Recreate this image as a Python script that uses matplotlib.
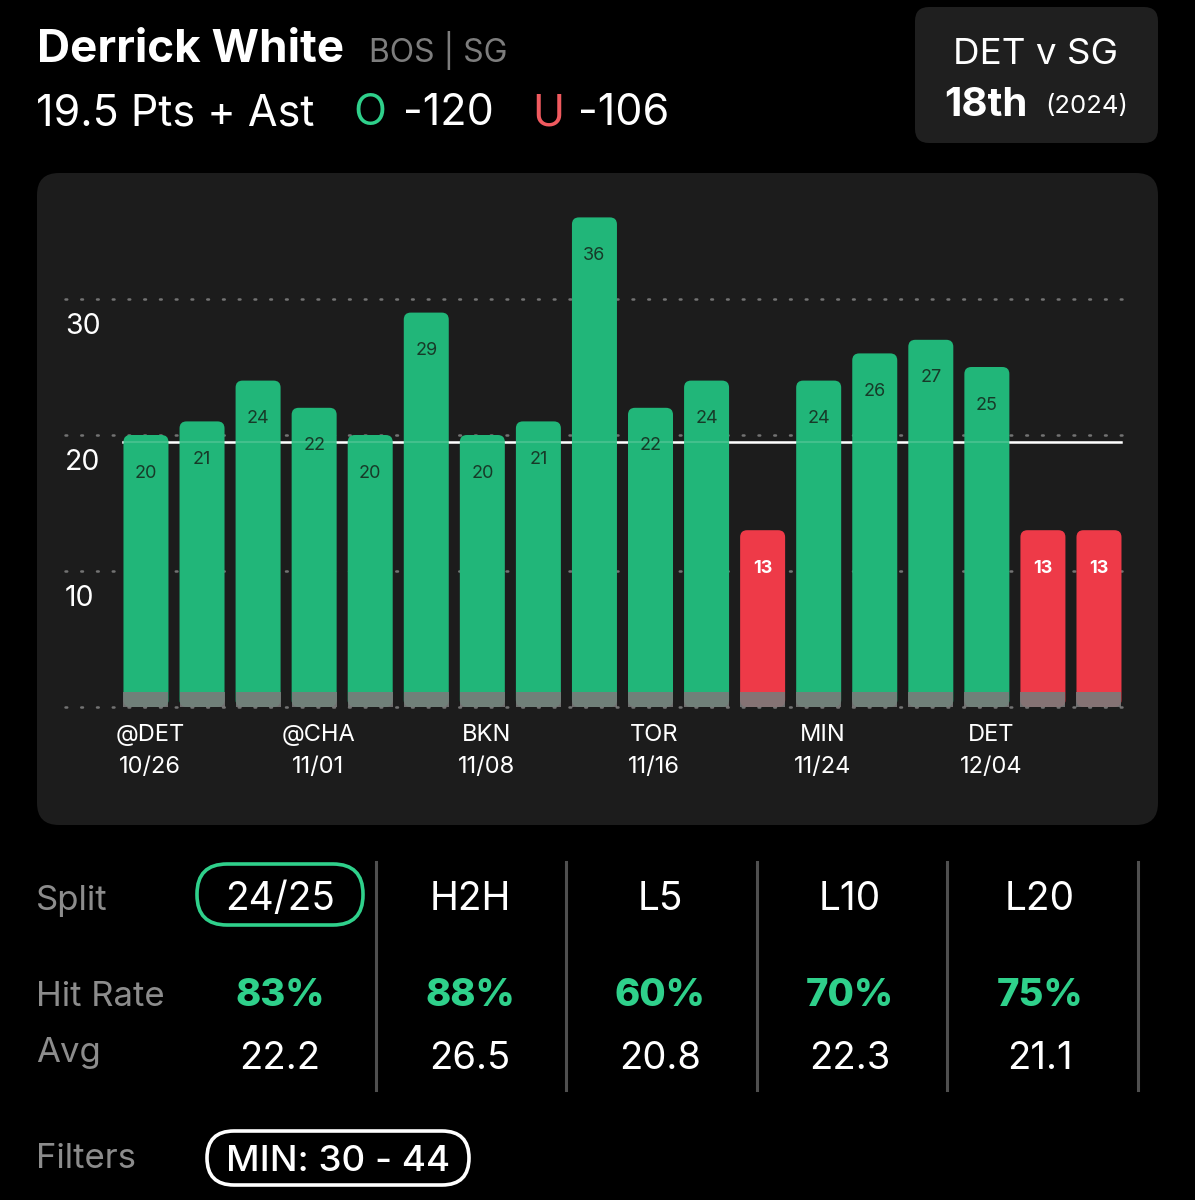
import matplotlib.pyplot as plt
import matplotlib.transforms as mtransforms
from matplotlib.patches import FancyBboxPatch, Rectangle

plt.rcParams["font.family"] = ["Inter", "DejaVu Sans"]

# header info
player = "Derrick White"
team_pos = "BOS | SG"
prop_line = 19.5
prop_label = "19.5 Pts + Ast"
over_odds = "-120"
under_odds = "-106"
matchup = "DET v SG"
rank = "18th"
rank_year = "(2024)"

# game log
values = [20, 21, 24, 22, 20, 29, 20, 21, 36, 22, 24, 13, 24, 26, 27, 25, 13, 13]
tick_idx = [0, 3, 6, 9, 12, 15]
opponents = ["@DET", "@CHA", "BKN", "TOR", "MIN", "DET"]
dates = ["10/26", "11/01", "11/08", "11/16", "11/24", "12/04"]
y_ticks = [10, 20, 30]
grid_vals = [0, 10, 20, 30]

# split table
splits = ["24/25", "H2H", "L5", "L10", "L20"]
hit_rates = ["83%", "88%", "60%", "70%", "75%"]
averages = ["22.2", "26.5", "20.8", "22.3", "21.1"]
filter_label = "MIN: 30 - 44"

GREEN = "#21b679"
RED = "#ee3a48"
BRIGHT_GREEN = "#2fd08b"
GREY_TXT = "#8c8c8c"
PANEL = "#1c1c1c"

fig = plt.figure(figsize=(11.95, 12), dpi=100, facecolor="black")

# pixel-space background axes
bg = fig.add_axes([0, 0, 1, 1])
bg.set_xlim(0, 1195)
bg.set_ylim(1200, 0)
bg.axis("off")
bg.set_facecolor("black")

# header
bg.text(37, 62, player, color="white", fontsize=33, fontweight="bold", va="baseline")
bg.text(369, 62, team_pos, color="#7d7d7d", fontsize=23, va="baseline")
bg.text(36, 125, prop_label, color="white", fontsize=31, va="baseline")
bg.text(353, 125, "O", color=BRIGHT_GREEN, fontsize=31, va="baseline")
bg.text(403, 125, over_odds, color="white", fontsize=31, va="baseline")
bg.text(532, 125, "U", color="#f05a5f", fontsize=31, va="baseline")
bg.text(578, 125, under_odds, color="white", fontsize=31, va="baseline")

# matchup box
bg.add_patch(FancyBboxPatch((915, 7), 243, 136, boxstyle="round,pad=0,rounding_size=14",
                            fc="#1f1f1f", ec="none"))
bg.text(1036, 64, matchup, color="white", fontsize=26.5, ha="center", va="baseline")
bg.text(944, 116, rank, color="white", fontsize=29, fontweight="bold", va="baseline")
bg.text(1045, 113, rank_year, color="white", fontsize=18.5, va="baseline")

# chart panel
bg.add_patch(FancyBboxPatch((37, 173), 1121, 652, boxstyle="round,pad=0,rounding_size=22",
                            fc=PANEL, ec="none"))

# chart axes: y=0 at pixel 707, 13.6 px per unit; bar spacing 56.06 px
px_unit = 13.6
ax = fig.add_axes([63 / 1195, (1200 - 720) / 1200, 1067 / 1195, 520 / 1200])
ax.set_xlim(-1.48, -1.48 + 1067 / 56.06)
ax.set_ylim(-13 / px_unit, 507 / px_unit)
ax.axis("off")
ax.patch.set_alpha(0)

x_lo, x_hi = ax.get_xlim()
gx0 = x_lo + 2 / 56.06
gx1 = x_lo + 1064 / 56.06
for g in grid_vals:
    ax.plot([gx0, gx1], [g, g], color="#737373", lw=1.8, linestyle=(0, (0.7, 5.6)),
            dash_capstyle="round", zorder=1)

bw = 45 / 56.06
n = len(values)
ax.plot([-bw / 2, n - 1 + bw / 2], [prop_line, prop_line], color="white", lw=1.8, zorder=1.5)

rs = 7 / 56.06
asp = 56.06 / px_unit
for i, v in enumerate(values):
    c = GREEN if v > prop_line else RED
    ax.add_patch(FancyBboxPatch((i - bw / 2, 0), bw, v,
                                boxstyle=f"round,pad=0,rounding_size={rs}",
                                mutation_aspect=asp, fc=c, ec="none", zorder=2))
    ax.add_patch(Rectangle((i - bw / 2, 0), bw, 1.1, fc="#7a7a7a", ec="none",
                           alpha=0.9, zorder=3))
    if v > prop_line:
        ax.text(i, v - 2.8, str(v), color="#173a28", fontsize=13, ha="center",
                va="center", zorder=4)
    else:
        ax.text(i, v - 2.8, str(v), color="white", fontsize=13, fontweight="bold",
                ha="center", va="center", zorder=4)

# faint threshold line across bars
ax.plot([-bw / 2, n - 1 + bw / 2], [prop_line, prop_line], color="white", lw=1.5,
        alpha=0.15, zorder=3.5)

# y labels sit below their gridlines
trans = mtransforms.blended_transform_factory(ax.transAxes, ax.transData)
for t in y_ticks:
    ax.text(2 / 1067, t - 2.0, str(t), transform=trans, color="white", fontsize=20.5,
            ha="left", va="center")

# x labels
for k, i in enumerate(tick_idx):
    ax.text(i + 0.07, -2.05, opponents[k], color="white", fontsize=17, ha="center", va="center")
    ax.text(i + 0.07, -4.4, dates[k], color="white", fontsize=17, ha="center", va="center")

# split table
col_x = [280, 470, 660, 850, 1040]
sep_x = [376, 566, 757, 947, 1138]
for sx in sep_x:
    bg.plot([sx, sx], [862, 1090], color="#4f4f4f", lw=2.2)

bg.text(36, 910, "Split", color=GREY_TXT, fontsize=25, va="baseline")
bg.text(36, 1006, "Hit Rate", color=GREY_TXT, fontsize=25, va="baseline")
bg.text(36, 1062, "Avg", color=GREY_TXT, fontsize=25, va="baseline")
bg.text(36, 1168, "Filters", color=GREY_TXT, fontsize=25, va="baseline")

bg.add_patch(FancyBboxPatch((197, 864), 166, 61, boxstyle="round,pad=0,rounding_size=30",
                            fc="none", ec=BRIGHT_GREEN, lw=2.6))
for k, x in enumerate(col_x):
    bg.text(x, 910, splits[k], color="white", fontsize=28, ha="center", va="baseline")
    bg.text(x, 1006, hit_rates[k], color=BRIGHT_GREEN, fontsize=27.5, fontweight=800,
            ha="center", va="baseline")
    bg.text(x, 1069, averages[k], color="white", fontsize=27.5, ha="center", va="baseline")

bg.add_patch(FancyBboxPatch((207, 1131), 262, 54, boxstyle="round,pad=0,rounding_size=27",
                            fc="none", ec="white", lw=2.6))
bg.text(338, 1171, filter_label, color="white", fontsize=26.5, fontweight="medium",
        ha="center", va="baseline")

fig.savefig("out.png", dpi=100, facecolor="black")
